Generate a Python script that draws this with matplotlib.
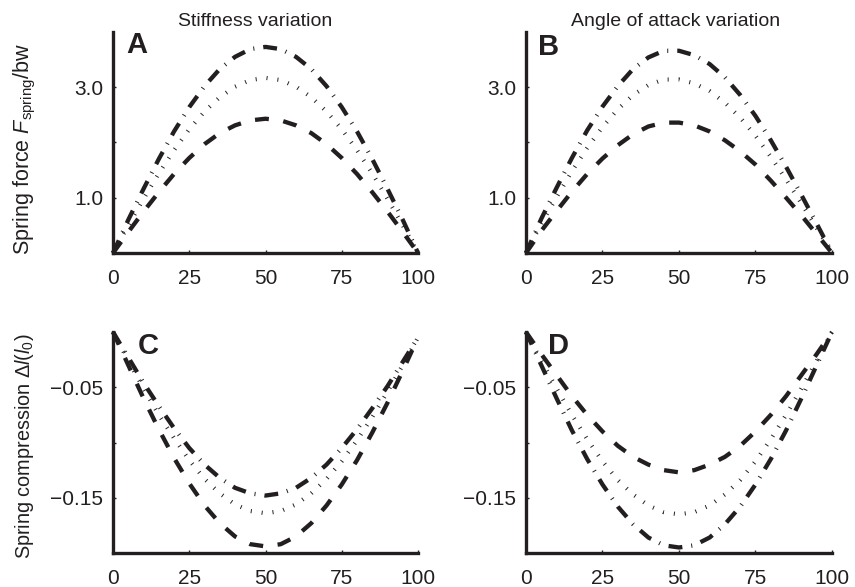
import matplotlib
matplotlib.use("Agg")
import matplotlib.pyplot as plt
import numpy as np

plt.rcParams['font.family'] = ['Liberation Sans', 'DejaVu Sans']
plt.rcParams['mathtext.fontset'] = 'custom'
plt.rcParams['mathtext.rm'] = 'Liberation Sans'
plt.rcParams['mathtext.it'] = 'Liberation Sans:italic'
plt.rcParams['lines.scale_dashes'] = False

INK = '#231f20'

# % of stance
x = [0, 5, 10, 15, 20, 25, 30, 35, 40, 45, 50, 55, 60, 65, 70, 75, 80, 85, 90, 95, 100]

# A - stiffness variation, spring force
a_dashdot = [0, 0.6, 1.16, 1.7, 2.2, 2.64, 3.02, 3.33, 3.55, 3.69, 3.73, 3.69, 3.55, 3.33, 3.02, 2.64, 2.2, 1.7, 1.16, 0.6, 0]
a_dotted = [0, 0.5, 0.98, 1.44, 1.86, 2.24, 2.56, 2.82, 3.01, 3.13, 3.17, 3.13, 3.01, 2.82, 2.56, 2.24, 1.86, 1.44, 0.98, 0.5, 0]
a_dashed = [0, 0.38, 0.75, 1.1, 1.43, 1.72, 1.97, 2.17, 2.31, 2.4, 2.43, 2.4, 2.31, 2.17, 1.97, 1.72, 1.43, 1.1, 0.75, 0.38, 0]

# B - angle of attack variation, spring force
b_dashdot = [0, 0.62, 1.18, 1.72, 2.22, 2.65, 3.02, 3.33, 3.54, 3.66, 3.66, 3.58, 3.42, 3.18, 2.86, 2.48, 2.04, 1.56, 1.05, 0.53, 0]
b_dotted = [0, 0.53, 1.01, 1.48, 1.9, 2.28, 2.6, 2.86, 3.04, 3.14, 3.14, 3.07, 2.93, 2.72, 2.45, 2.12, 1.74, 1.33, 0.9, 0.45, 0]
b_dashed = [0, 0.4, 0.76, 1.11, 1.43, 1.71, 1.95, 2.15, 2.29, 2.36, 2.36, 2.31, 2.2, 2.04, 1.84, 1.6, 1.31, 1.0, 0.68, 0.34, 0]

# C - stiffness variation, spring compression
c_dashdot = [0, -0.023, -0.046, -0.067, -0.087, -0.105, -0.12, -0.132, -0.141, -0.146, -0.148, -0.146, -0.141, -0.132, -0.12, -0.105, -0.088, -0.069, -0.049, -0.027, -0.005]
c_dotted = [0, -0.026, -0.051, -0.075, -0.096, -0.116, -0.133, -0.146, -0.156, -0.162, -0.164, -0.162, -0.156, -0.146, -0.133, -0.117, -0.098, -0.077, -0.054, -0.03, -0.005]
c_dashed = [0, -0.03, -0.06, -0.088, -0.114, -0.137, -0.157, -0.173, -0.185, -0.192, -0.194, -0.192, -0.185, -0.173, -0.157, -0.138, -0.116, -0.091, -0.064, -0.035, -0.005]

# D - angle of attack variation, spring compression
d_dashdot = [0, -0.03, -0.06, -0.089, -0.115, -0.138, -0.158, -0.174, -0.186, -0.193, -0.195, -0.193, -0.186, -0.174, -0.158, -0.138, -0.115, -0.089, -0.06, -0.03, 0]
d_dotted = [0, -0.026, -0.051, -0.075, -0.097, -0.117, -0.134, -0.147, -0.157, -0.163, -0.165, -0.163, -0.157, -0.147, -0.134, -0.117, -0.097, -0.075, -0.051, -0.026, 0]
d_dashed = [0, -0.02, -0.039, -0.058, -0.075, -0.09, -0.103, -0.113, -0.12, -0.125, -0.127, -0.125, -0.12, -0.113, -0.103, -0.09, -0.075, -0.058, -0.039, -0.02, 0]

xticks = [0, 25, 50, 75, 100]
force_ticks = [1, 2, 3]
force_labels = ['1.0', '', '3.0']
comp_ticks = [-0.15, -0.1, -0.05]
comp_labels = ['\u22120.15', '', '\u22120.05']

DASHED = (0, (10, 10.5))
DASHDOT = (0, (10, 6.5, 0.7, 6.5))
DOTTED = (0, (0.7, 7.2))

fig = plt.figure(figsize=(8.55, 5.87), dpi=100)
pos = {
    'A': [0.1322, 0.569, 0.3567, 0.3765],
    'B': [0.6152, 0.569, 0.3579, 0.3765],
    'C': [0.1322, 0.0579, 0.3567, 0.3765],
    'D': [0.6152, 0.0579, 0.3579, 0.3765],
}
letter_pos = {'A': (0.079, 0.941), 'B': (0.075, 0.932), 'C': (0.115, 0.937), 'D': (0.105, 0.935)}
data = {
    'A': (a_dashdot, a_dotted, a_dashed),
    'B': (b_dashdot, b_dotted, b_dashed),
    'C': (c_dashdot, c_dotted, c_dashed),
    'D': (d_dashdot, d_dotted, d_dashed),
}

for key in ['A', 'B', 'C', 'D']:
    ax = fig.add_axes(pos[key])
    dd, dt, ds = data[key]
    ax.plot(x, dd, color=INK, lw=3.1, linestyle=DASHDOT, dash_capstyle='butt', clip_on=False)
    ax.plot(x, dt, color=INK, lw=3.0, linestyle=DOTTED, dash_capstyle='butt', clip_on=False)
    ax.plot(x, ds, color=INK, lw=3.1, linestyle=DASHED, dash_capstyle='butt', clip_on=False)

    ax.set_xlim(0, 100)
    ax.set_xticks(xticks)
    if key in ('A', 'B'):
        ax.set_ylim(0, 4)
        ax.set_yticks(force_ticks)
        ax.set_yticklabels(force_labels)
    else:
        ax.set_ylim(-0.2, 0)
        ax.set_yticks(comp_ticks)
        ax.set_yticklabels(comp_labels)

    for s in ['top', 'right']:
        ax.spines[s].set_visible(False)
    for s in ['left', 'bottom']:
        ax.spines[s].set_linewidth(2.4)
        ax.spines[s].set_color(INK)
    ax.tick_params(axis='x', direction='in', length=2, width=1, pad=11.5, labelsize=15, colors=INK)
    ax.tick_params(axis='y', direction='in', length=2, width=1, pad=7, labelsize=15, colors=INK)
    ax.patch.set_visible(False)

    lx, ly = letter_pos[key]
    ax.text(lx, ly, key, transform=ax.transAxes, fontsize=21, fontweight='bold',
            ha='center', va='center', color=INK)

fig.text(255 / 855, 1 - 21 / 587, 'Stiffness variation', ha='center', va='center', fontsize=14, color=INK)
fig.text(676 / 855, 1 - 21 / 587, 'Angle of attack variation', ha='center', va='center', fontsize=14, color=INK)
fig.text(25 / 855, 1 - 149 / 587, r'Spring force $\mathit{F}_{\rm spring}$/bw', rotation=90,
         ha='center', va='center', fontsize=15.5, color=INK)
fig.text(25 / 855, 1 - 446 / 587, r'Spring compression $\Delta\mathit{l}(\mathit{l}_{\rm 0})$', rotation=90,
         ha='center', va='center', fontsize=14.3, color=INK)

fig.savefig('out.png', dpi=100)
